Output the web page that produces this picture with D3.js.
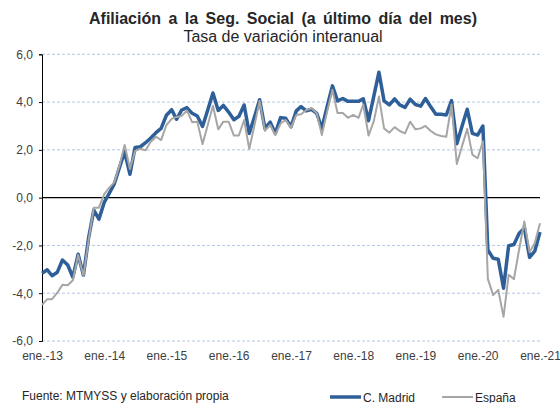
<!DOCTYPE html>
<html>
<head>
<meta charset="utf-8">
<script src="https://cdn.jsdelivr.net/npm/d3@7"></script>
<style>
    body { margin: 0; background: #fff; }
    svg { display: block; font-family: "Liberation Sans", Arial, sans-serif; }
</style>
</head>
<body>
<script>
// meses desde ene.-13 hasta ene.-21 (97 puntos)
const startMonth = new Date(2013, 0, 1);
const tickLabels = ["ene.-13", "ene.-14", "ene.-15", "ene.-16", "ene.-17", "ene.-18", "ene.-19", "ene.-20", "ene.-21"];
const yTicks = [-6, -4, -2, 0, 2, 4, 6];

const madrid = [
    -3.16, -3.02, -3.27, -3.12, -2.61, -2.82, -3.33, -2.37, -3.25, -1.70, -0.52, -0.90,
    -0.20, 0.20, 0.57, 1.27, 1.92, 0.98, 2.10, 2.13, 2.30, 2.50, 2.72, 2.90,
    3.45, 3.68, 3.28, 3.67, 3.77, 3.53, 3.42, 2.98, 3.68, 4.38, 3.65, 3.86,
    3.58, 3.26, 3.40, 3.88, 2.69, 3.39, 4.10, 2.90, 3.16, 2.69, 3.35, 3.32,
    2.97, 3.63, 3.81, 3.63, 3.70, 3.53, 2.90, 3.81, 4.68, 4.05, 4.15, 4.03,
    4.03, 4.03, 4.14, 3.22, 4.22, 5.25, 4.05, 3.88, 4.13, 3.88, 3.78, 4.12,
    3.90, 3.83, 4.15, 3.80, 3.49, 3.49, 3.46, 4.06, 2.26, 2.98, 3.70, 2.69,
    2.62, 3.00, -2.19, -2.54, -2.58, -3.79, -2.01, -1.96, -1.49, -1.28, -2.50, -2.24,
    -1.44
];

const espana = [
    -4.49, -4.25, -4.25, -3.98, -3.65, -3.67, -3.46, -2.40, -3.28, -1.80, -0.42, -0.42,
    0.15, 0.43, 0.64, 1.35, 2.20, 1.20, 1.95, 2.05, 1.98, 2.34, 2.55, 2.41,
    3.04, 3.30, 3.38, 3.42, 3.65, 3.16, 3.18, 2.24, 3.05, 3.85, 2.86, 3.18,
    3.18, 2.60, 2.60, 3.25, 2.04, 3.04, 4.05, 2.80, 3.04, 2.62, 3.11, 3.25,
    2.93, 3.46, 3.49, 3.67, 3.74, 3.53, 2.62, 3.60, 4.52, 3.54, 3.54, 3.34,
    3.46, 3.34, 3.90, 2.60, 3.18, 4.23, 2.90, 2.72, 2.95, 2.79, 2.69, 3.18,
    2.86, 2.90, 3.00, 2.79, 2.65, 2.58, 2.55, 3.90, 1.41, 2.14, 2.88, 1.80,
    1.65, 2.35, -3.40, -4.08, -3.86, -4.99, -3.23, -3.41, -2.15, -1.00, -2.28, -1.91,
    -1.07
];

const W = 560, H = 403;
const mLeft = 42, mRight = 540, mTop = 54.3, mBottom = 341;

const locale = d3.formatLocale({ decimal: ",", thousands: ".", grouping: [3], currency: ["", " €"], minus: "-" });
const fmt = locale.format(".1f");

const svg = d3.select("body").append("svg")
    .attr("width", W)
    .attr("height", H);

svg.append("rect").attr("width", W).attr("height", H).attr("fill", "#fff");

const dates = madrid.map((d, i) => d3.timeMonth.offset(startMonth, i));

const x = d3.scaleTime()
    .domain([dates[0], dates[dates.length - 1]])
    .range([mLeft, mRight]);

const y = d3.scaleLinear()
    .domain([-6, 6])
    .range([mBottom, mTop]);

// titulo
svg.append("text")
    .attr("x", 283).attr("y", 24)
    .attr("text-anchor", "middle")
    .attr("font-size", 16).attr("font-weight", "bold")
    .attr("fill", "#262626")
    .attr("word-spacing", 3)
    .text("Afiliación a la Seg. Social (a último día del mes)");

svg.append("text")
    .attr("x", 283).attr("y", 42)
    .attr("text-anchor", "middle")
    .attr("font-size", 16)
    .attr("fill", "#262626")
    .text("Tasa de variación interanual");

// lineas de rejilla
svg.append("g")
    .selectAll("line")
    .data(yTicks.filter(d => d !== 0))
    .enter()
    .append("line")
    .attr("x1", mLeft).attr("x2", mRight)
    .attr("y1", d => y(d)).attr("y2", d => y(d))
    .attr("stroke", "#B4C6E4")
    .attr("stroke-width", 1)
    .attr("stroke-dasharray", "3,2");

// eje Y
const yAxis = svg.append("g")
    .attr("transform", `translate(${mLeft},0)`)
    .call(d3.axisLeft(y).tickValues(yTicks).tickSize(3).tickPadding(6).tickFormat(fmt));
yAxis.select(".domain").attr("stroke", "#000");
yAxis.selectAll(".tick line").attr("stroke", "#000");
yAxis.selectAll("text")
    .attr("font-size", 12)
    .attr("fill", "#404040")
    .attr("font-family", "Liberation Sans, Arial, sans-serif");

// linea del cero
svg.append("line")
    .attr("x1", mLeft).attr("x2", mRight)
    .attr("y1", y(0)).attr("y2", y(0))
    .attr("stroke", "#000")
    .attr("stroke-width", 1.2);

// etiquetas eje X (cada 12 meses)
const tickDates = tickLabels.map((d, i) => d3.timeMonth.offset(startMonth, i * 12));
const xAxis = svg.append("g")
    .attr("transform", `translate(0,${mBottom})`)
    .call(d3.axisBottom(x).tickValues(tickDates).tickSize(0).tickPadding(10)
        .tickFormat((d, i) => tickLabels[i]));
xAxis.select(".domain").remove();
xAxis.selectAll("text")
    .attr("font-size", 12)
    .attr("fill", "#404040")
    .attr("font-family", "Liberation Sans, Arial, sans-serif");

// series
const line = d3.line()
    .x((d, i) => x(dates[i]))
    .y(d => y(d));

svg.append("path")
    .datum(madrid)
    .attr("d", line)
    .attr("fill", "none")
    .attr("stroke", "#2F5F98")
    .attr("stroke-width", 3.5)
    .attr("stroke-linejoin", "round");

svg.append("path")
    .datum(espana)
    .attr("d", line)
    .attr("fill", "none")
    .attr("stroke", "#A6A6A6")
    .attr("stroke-width", 2)
    .attr("stroke-linejoin", "round");

// fuente
svg.append("text")
    .attr("x", 22).attr("y", 400)
    .attr("font-size", 12)
    .attr("fill", "#262626")
    .text("Fuente: MTMYSS  y elaboración propia");

// leyenda
const legend = [
    { name: "C. Madrid", color: "#2F5F98", w: 3.5, x: 330 },
    { name: "España", color: "#A6A6A6", w: 2, x: 442 }
];
const lg = svg.append("g")
    .selectAll("g")
    .data(legend)
    .enter()
    .append("g")
    .attr("transform", d => `translate(${d.x},397)`);
lg.append("line")
    .attr("x1", 0).attr("x2", 31)
    .attr("stroke", d => d.color)
    .attr("stroke-width", d => d.w);
lg.append("text")
    .attr("x", 33).attr("y", 4.5)
    .attr("font-size", 12)
    .attr("fill", "#262626")
    .text(d => d.name);
</script>
</body>
</html>
